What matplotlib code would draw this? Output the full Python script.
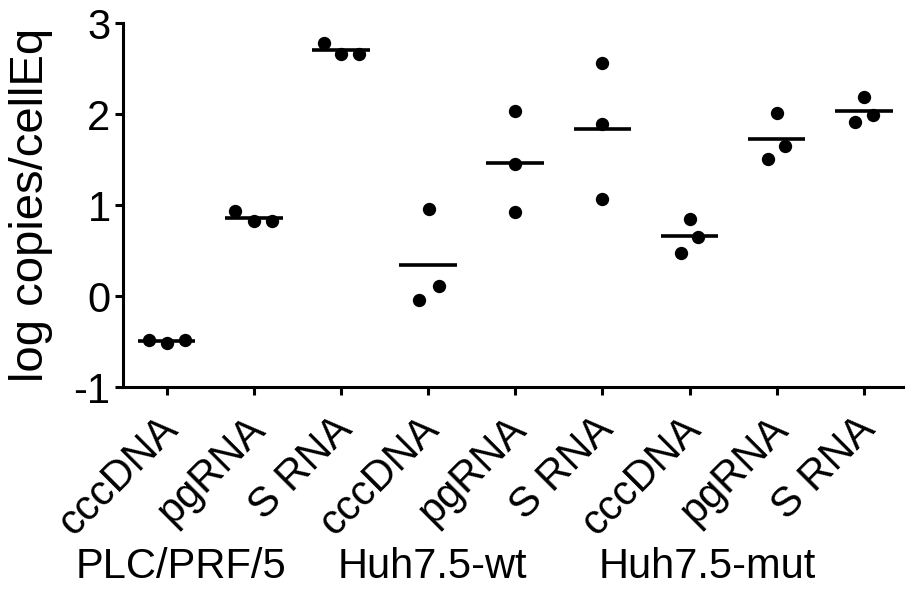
# Scatter of log copies per cell equivalent with mean lines
import numpy as np
import matplotlib
matplotlib.use("Agg")
import matplotlib.pyplot as plt
import matplotlib.transforms as mtransforms

# Data
targets = ['cccDNA', 'pgRNA', 'S RNA', 'cccDNA', 'pgRNA', 'S RNA', 'cccDNA', 'pgRNA', 'S RNA']
cell_lines = ['PLC/PRF/5', 'Huh7.5-wt', 'Huh7.5-mut']

plc_cccdna = [-0.48, -0.52, -0.48]
plc_pgrna = [0.93, 0.82, 0.82]
plc_srna = [2.78, 2.66, 2.66]
wt_cccdna = [-0.04, 0.96, 0.11]
wt_pgrna = [2.03, 1.45, 0.92]
wt_srna = [2.56, 1.89, 1.07]
mut_cccdna = [0.47, 0.85, 0.65]
mut_pgrna = [1.51, 2.01, 1.65]
mut_srna = [1.91, 2.19, 1.99]

groups = [plc_cccdna, plc_pgrna, plc_srna, wt_cccdna, wt_pgrna, wt_srna,
          mut_cccdna, mut_pgrna, mut_srna]

# Horizontal spread of the dots inside each column (layout only)
spread = [[-0.2, 0, 0.21], [-0.21, 0, 0.21], [-0.19, 0, 0.21],
          [-0.1, 0.01, 0.12], [0, 0, 0], [0, 0, 0],
          [-0.1, 0, 0.1], [-0.1, 0, 0.1], [-0.1, 0, 0.1]]

plt.rcParams['font.family'] = ['Liberation Sans', 'DejaVu Sans']
plt.rcParams['axes.unicode_minus'] = False

fig = plt.figure(figsize=(9.06, 5.90), dpi=100)
ax = fig.add_axes([0.1358, 0.344, 0.861, 0.617])

for i, vals in enumerate(groups):
    xs = i + np.array(spread[i])
    ax.scatter(xs, vals, s=92, color='black', zorder=3, linewidths=0)
    m = np.mean(vals)
    ax.plot([i - 0.33, i + 0.33], [m, m], color='black', lw=2.6, solid_capstyle='butt', zorder=4)

ax.set_xlim(-0.5, 8.45)
ax.set_ylim(-1, 3)
ax.set_yticks([-1, 0, 1, 2, 3])
ax.set_xticks(range(len(targets)))
ax.set_xticklabels(targets, rotation=45, ha='right', va='center', rotation_mode='anchor')

for side in ['top', 'right']:
    ax.spines[side].set_visible(False)
for side in ['left', 'bottom']:
    ax.spines[side].set_linewidth(2.2)

ax.tick_params(axis='both', direction='out', length=6, width=2.2, labelsize=30, pad=3)
ax.tick_params(axis='x', pad=20)
ax.set_ylabel('log copies/cellEq', fontsize=34, labelpad=15)

# nudge the slanted labels a little to the right
shift = mtransforms.ScaledTranslation(5 / 100, 0, fig.dpi_scale_trans)
for lab in ax.get_xticklabels():
    lab.set_transform(lab.get_transform() + shift)

# cell line labels under each group of three
trans = mtransforms.blended_transform_factory(ax.transData, fig.transFigure)
for k, name in enumerate(cell_lines):
    ax.text(3 * k - 1.04, 0.02, name, transform=trans, ha='left', va='baseline', fontsize=30)

plt.savefig('out.png', dpi=100)
